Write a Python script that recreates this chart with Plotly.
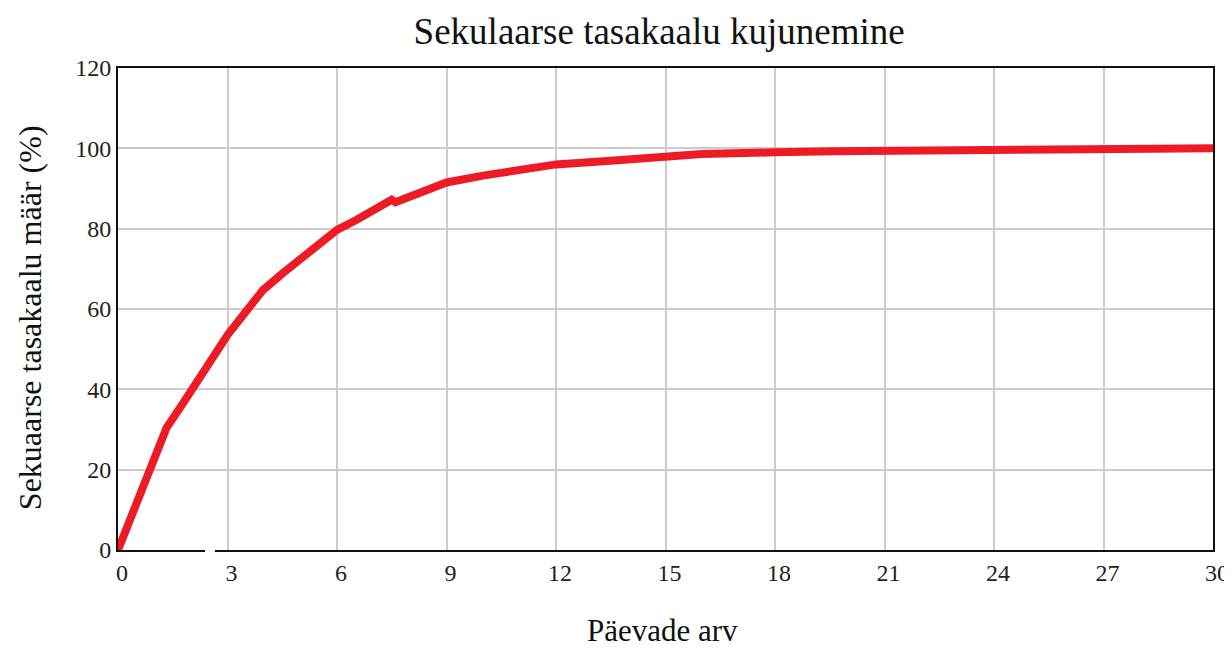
import plotly.graph_objects as go

days = [0, 1.33, 1.8, 2.25, 2.6, 3, 3.5, 3.97, 4.5, 5.17, 6, 6.54, 7.0, 7.5, 7.6, 8.3, 9, 10, 11.3, 12, 13.5, 15, 16, 18, 19.6, 26.5, 30]
rate = [0, 30.4, 36.8, 42.8, 48.3, 53.5, 59.3, 64.7, 68.8, 73.9, 79.7, 82.2, 84.8, 87.2, 86.6, 89.3, 91.5, 93.2, 95.0, 96.0, 96.9, 97.7, 98.6, 99.0, 99.3, 99.8, 100]

x_ticks = [0, 3, 6, 9, 12, 15, 18, 21, 24, 27, 30]
y_ticks = [0, 20, 40, 60, 80, 100, 120]

FONT = "Liberation Serif"

fig = go.Figure()
fig.add_trace(go.Scatter(
    x=days, y=rate, mode="lines",
    line=dict(color="#ed1c24", width=8),
    hoverinfo="skip", showlegend=False,
))

axis_common = dict(
    showline=True, linecolor="#111111", linewidth=2, mirror=True,
    showgrid=True, gridcolor="#cccccc", gridwidth=1.5,
    zeroline=False, ticks="", automargin=False,
    tickfont=dict(family=FONT, size=24, color="#222222"),
)

fig.update_layout(
    width=1224, height=640,
    paper_bgcolor="white", plot_bgcolor="white",
    margin=dict(l=110, r=19, t=60, b=98),
    title=dict(text="Sekulaarse tasakaalu kujunemine", x=0.532, xanchor="center",
               y=0.964, yanchor="middle",
               font=dict(family=FONT, size=37, color="#111111")),
    xaxis=dict(range=[0, 30], tickvals=x_ticks, ticktext=[str(v) for v in x_ticks],
               ticklabelshift=4, **axis_common),
    yaxis=dict(range=[0, 120], tickvals=y_ticks, ticktext=[str(v) for v in y_ticks], **axis_common),
    annotations=[
        dict(text="Päevade arv", xref="paper", yref="paper", x=0.497, y=-0.168,
             xanchor="center", yanchor="middle", showarrow=False,
             font=dict(family=FONT, size=31, color="#111111")),
        dict(text="Sekuaarse tasakaalu määr (%)", xref="paper", yref="paper", x=-0.0804, y=0.483,
             xanchor="center", yanchor="middle", showarrow=False, textangle=-90,
             font=dict(family=FONT, size=32, color="#111111")),
    ],
    shapes=[dict(type="rect", xref="paper", yref="paper", x0=0.0795, x1=0.0885, y0=-0.012, y1=0.002,
                 fillcolor="white", line=dict(width=0), layer="above")],
)

fig.write_html("out.html")
